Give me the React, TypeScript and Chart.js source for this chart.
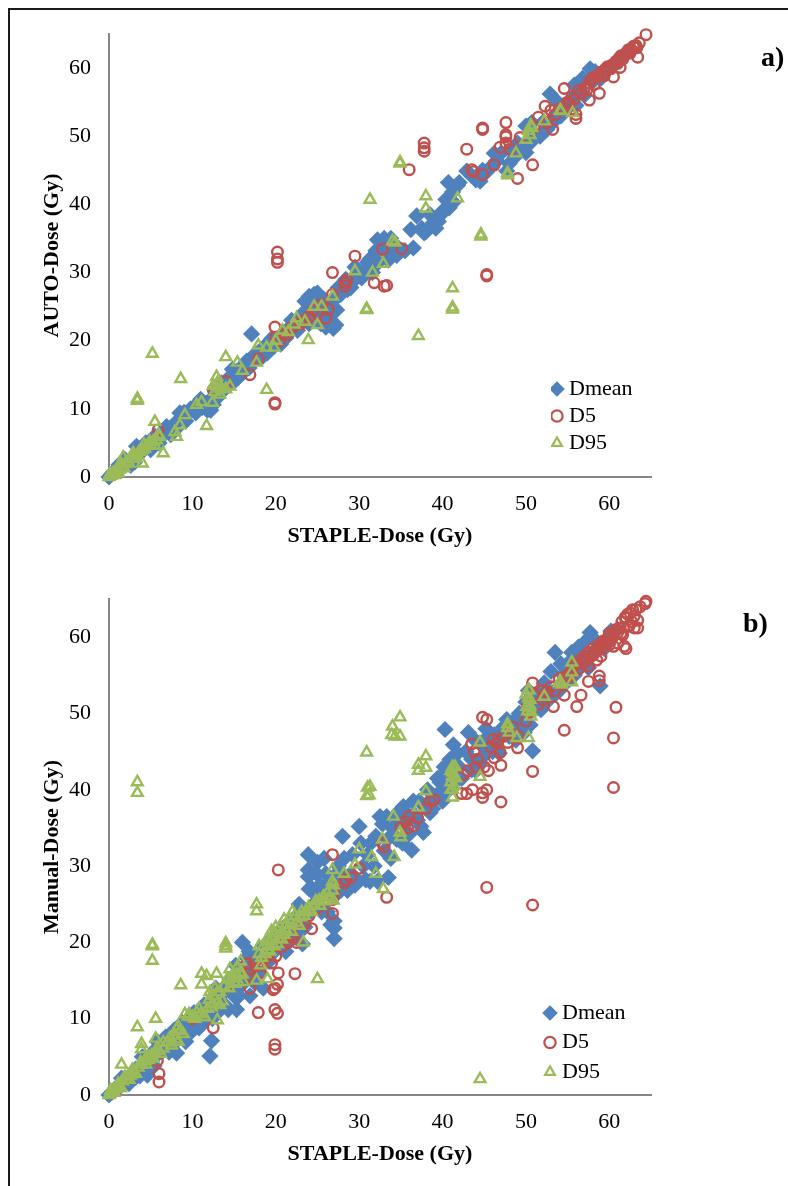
import React, { useEffect, useRef } from "react";
import { Chart, registerables } from "chart.js";

Chart.register(...registerables);

type P = [number, number];

const seriesNames = ["Dmean", "D5", "D95"];
const axisTicks = [0, 10, 20, 30, 40, 50, 60];

const autoDmean: P[] = [
  [0,0],[0.3,0.4],[0.6,0.8],[1,1],[1.5,1.4],[2,1.8],[2.5,2.3],[3,3],[3.3,4.5],[3.8,4.2],[4.2,4],[4.8,4.6],[5.3,5],[5.8,5.4],[6.2,6],[6.7,6.5],[7.2,7],[7.7,7.5],[8.2,8.2],[8.7,8.7],[9,9.5],[9.3,9.2],[10.3,10.3],[10.8,11],[11.2,10.2],[11.8,9.8],[12.2,9.8],[12.5,10.6],[12.8,12.5],[13.5,13.8],[14.2,14.3],[14.6,14.8],[15,14],[15.3,15.5],[15.8,16],[16.5,17],[17,17.2],[17.1,21],[18,18],[18.5,19],[19,19.5],[19.8,19.2],[20.3,20.2],[20.8,20.8],[21.3,21.5],[22,22],[22.5,23],[23.2,23],[23.5,25.8],[24,26.5],[24.6,26.8],[25,25.5],[25.5,25],[24.8,24],[25.4,22.5],[26,24],[26.9,21.8],[26,22],[27,26],[27.5,27.8],[28,28],[28.6,27.5],[29.5,29],[30,30],[30.8,30.5],[31.3,32],[32,33.2],[32.6,33.8],[33.2,33],[33.5,31.8],[34,34],[34.8,33.5],[36.5,33.6],[36.2,36.3],[36.9,38.3],[37.5,36.5],[38,36],[38.9,37.3],[39.5,37.5],[40,39],[40.4,40.7],[40.7,43.2],[41.3,40.3],[41.8,42.8],[42.9,44.9],[43.5,44.2],[44.5,43.4],[45.3,44.8],[46.5,46.4],[47.7,44.9],[47,47.5],[48.3,48],[49,49],[50,47.6],[50,51.5],[51,50.5],[51.7,50],[52,52],[52.9,56.2],[53.5,53],[54.5,54.5],[55.5,55.5],[56,54.5],[56.5,57],[57.7,59.9],[58,58],[59,58.5],[60,60],[61,61],[62,62],
  [1.2,1.8],[1.9,2.6],[2.6,1.7],[3.1,2.2],[3.6,3.4],[4.4,5],[5,4],[5.5,6],[6,5],[6.9,7.4],[7.4,6.2],[8,7],[8.5,9.4],[9.2,8.2],[9.8,10],[10.4,9.4],[11,11.4],[11.6,10.8],[12.2,11.4],[12.9,11.5],[13.2,13],[13.8,12.8],[14.2,13.3],[14.8,15.8],[15.5,14.6],[16,15.2],[16.8,16],[17.5,18],[18.2,17.4],[19,18.2],[19.5,20.3],[20.6,19.5],[21.2,20.4],[21.9,23],[22.6,21.5],[23.4,24.2],[24,22.5],[24.4,25.3],[25,27],[25.8,26],[26.4,25.3],[26.6,23],[27.3,24.5],[27.2,22.3],[27.8,26.8],[28.4,29],[29,27.8],[29.5,30.8],[30.3,29.2],[31,31.5],[31.6,30],[32.3,31.5],[33,35],[33.8,35],[32.2,34.8],[34.5,32.5],[35.5,33.2],[37.8,35.8],[38.5,38.5],[39.2,36.5],[39.8,38.5],[40.8,39.5],[41.2,41.8],[42,43.2],[44,43.6],[44.8,45],[45.8,45.5],[46.2,47.5],[48,46],[48.7,47],[49.5,48.5],[50.5,49],[50.7,52],[52.5,51],[53.2,52],[53.8,55],[54.2,53],[55,54.5],[55.8,57.5],[56.8,58.5],[57,56],[58.3,59.5],[59.2,59.5]
];
const autoD5: P[] = [
  [0.5,0.5],[1.5,1.6],[5.9,6.9],[12.5,12.8],[14,14],[16.9,15],[17.9,17.3],[19.9,10.9],[19.9,10.7],[19.9,22],[20.2,33],[20.2,32],[20.2,31.5],[21,21],[22,22],[22.5,22.5],[23,22.5],[24,23.5],[25,24],[26,23.3],[26.3,24.6],[26.8,26.8],[26.8,30],[28.3,28.5],[28.3,28],[28.5,28.9],[29.5,32.4],[31.8,28.5],[32.8,33.4],[33.3,28.1],[33,28],[35.1,33.5],[36,45.1],[37.8,49],[37.8,48.3],[37.8,47.8],[42.9,48.1],[43.5,45.1],[43.7,44.8],[44.8,51],[44.8,51.2],[44.8,44.4],[45.3,29.7],[45.3,29.5],[46.2,45.8],[46.9,48.4],[47.6,52],[47.6,50.2],[47.6,49.9],[47.6,49],[48.1,48.1],[49,43.8],[49.3,49.8],[50.8,45.8],[51.5,52.8],[52.3,54.4],[53,53.8],[53.2,51],[54,54],[54.6,57],[55,55],[55.5,55.8],[56,52.6],[56,53.2],[56.3,56.7],[57,57],[57.6,55.3],[57.6,57.8],[58,58.5],[58.8,56.3],[58.7,58.9],[59.2,59],[59.5,59.8],[60,60.2],[60.5,58.7],[60.4,60.5],[60.8,61],[61.3,60.1],[61.2,61.5],[61.6,61.3],[62,62.2],[62.3,62.7],[62.6,62.6],[63,63],[63.4,61.6],[63.2,63.3],[63.6,63.7],[64.4,64.9],
  [55.8,55.4],[56.6,56.3],[57.3,56.8],[57.8,58.3],[58.2,57.6],[58.5,58.8],[59,59.4],[59.4,58.9],[59.8,60.2],[60.2,59.9],[60.7,60.6],[61,60.7],[61.4,61.8],[61.8,61.9],[62.2,62.4],[62.5,62.2],[62.9,63.2],[63.3,63],[52.5,52],[53.5,53.2],[54.5,54.2],[55.2,54.9],[51,51.3],[20,20.5],[20.5,20],[21.5,21],[23.5,23],[24.5,24.5],[25.5,25.3]
];
const autoD95: P[] = [
  [0,0],[0.2,0.2],[0.4,0.5],[0.6,0.6],[0.8,0.9],[1,1],[1.2,1.1],[1.5,1.4],[1.7,2.9],[1.9,1.9],[2.2,2.1],[2.5,2.7],[2.8,2.8],[3,3.2],[3.3,3.1],[3.4,11.5],[3.4,11.2],[3.6,3.7],[4,2],[4,4],[4.3,4.2],[4.6,4.6],[5,4.7],[5.2,18.1],[5.3,5.2],[5.5,8.1],[5.7,5.4],[6.1,5.9],[6.5,3.5],[7.9,6.6],[8.1,5.9],[8.5,7.6],[8.6,14.4],[9.1,9.1],[10.5,10.6],[11.1,11],[11.7,7.5],[12.4,10.9],[12.9,14.7],[13,13],[13.3,12.1],[12.7,12.5],[14,12.9],[14.5,13.3],[14,17.6],[15.4,16.8],[16,15.6],[17.7,16.8],[17.9,19.3],[18.9,12.8],[18.9,19],[19.8,19],[20,20],[20.8,21.5],[21.5,21.3],[22.2,22.4],[22.5,23.3],[23.5,22.8],[23.9,20.1],[24.6,25],[25,22.3],[25.5,25],[26.8,26.5],[29.5,30.2],[30.9,24.7],[30.9,24.5],[31.3,40.7],[31.6,30],[32.9,31.3],[34,34.6],[34.3,34.4],[34.9,46.2],[34.9,46],[37.1,20.7],[38,41.2],[38,39.4],[41.2,27.7],[41.2,24.9],[41.2,24.6],[41.8,40.9],[44.6,35.6],[44.6,35.3],[47.8,44.6],[47.8,44.3],[48.8,47.5],[50,49.5],[50.3,50.8],[50.5,50.2],[50.6,51.6],[50.7,51.2],[52.2,52.2],[54.1,53.8],[54.2,53.7],[55.6,53.4],
  [0.1,0.4],[0.7,0.3],[1.1,0.6],[1.4,2],[1.8,1.3],[2.4,2],[2.9,3.5],[3.2,2.7],[3.8,3.9],[4.2,4.8],[4.9,5.2],[5.5,4.6],[5.9,6.2],[13,13.8],[13.5,13],[12.5,13.4]
];

const manualDmean: P[] = [
  [0,0],[0.4,0.4],[0.8,0.9],[1.2,1],[1.7,1.5],[2.2,2.2],[2.8,2.5],[3.2,3.4],[3.7,2.5],[4.3,4.2],[4.8,3.2],[5,5.2],[5.6,6],[6,5.5],[6.5,5.8],[7,6.5],[7.5,7.2],[8.1,5.5],[8.4,8.7],[9,7.6],[9.5,9.8],[10,9],[10.5,10.5],[11,10],[11.5,9.7],[12.1,5.1],[12.3,7.1],[12,11.5],[12.7,12.6],[13.2,11],[13.8,14],[14.3,11.2],[14.5,15.2],[15,13],[15.3,11.2],[15.6,16],[16,20],[16,14.5],[16.5,18],[16.9,13],[17,17],[17.5,16],[18,18],[18.5,14],[19,20],[19.5,18.5],[20,21],[20.5,19.5],[21,22],[21.5,20],[22,23],[22.5,21],[23,24],[23.5,22],[23.9,31.5],[23.9,29.5],[23.9,28.6],[24,27],[24.5,25],[25,26],[25,30.5],[25.5,24],[26,29],[26.5,28],[27,20.5],[27,21.9],[26.6,22.3],[27,26],[27.5,30],[28,33.9],[28.3,28.5],[29,29],[29.5,27.5],[30,35.2],[30.5,30],[31,31.5],[31.3,28],[32,33.9],[32.5,36.5],[33,32],[33.3,36.5],[33.5,28.5],[34,35],[34.5,33.5],[35.3,37.8],[35.5,35.5],[36.3,32.1],[36.5,38.5],[37,36],[37.7,34.4],[38,38],[38.5,37],[39,39],[39.7,41],[40,38.5],[40.3,47.9],[40.5,42.5],[40.9,44],[41.3,45.9],[41.5,41],[42,43],[43.1,47.5],[43.5,44],[44,42.5],[44.5,46],[45,44.5],[45.5,47],[46,45],[46.5,46.5],[47,47],[47.7,49.2],[48,47],[48.5,48.5],[49,49.5],[49.8,47.5],[50.3,53],[50.8,45.1],[51,50.5],[51.5,52.5],[52.5,51.5],[53,55.5],[53.5,58],[54,53],[54.5,55],[55,56.5],[56,55.5],[56.3,58.7],[57,57.5],[57.7,60.6],[58,58],[58.9,53.6],[59,59],[60,60],[61,61],
  [1.5,2.2],[2.4,1.5],[3.2,2.3],[4,5],[4.6,2.6],[5.4,3.8],[5.8,7],[6.8,7.6],[7.2,5.6],[7.8,8.5],[8,7],[8.8,9.5],[9.2,7],[9.8,8.2],[10.2,10.8],[10.8,8.8],[11.4,11.8],[11.8,10.4],[12.4,10],[12.8,14],[13.4,13],[13.9,11.8],[14.6,13.8],[15.2,17],[15.6,13],[16.3,15.5],[16.8,18.8],[17.4,14.8],[18,16],[18.6,19.5],[19.2,17.5],[20,19],[20.7,21.5],[21.2,18.8],[22,20.5],[22.8,25],[23.2,19.8],[23.6,23.5],[24.2,24],[24.4,27],[24.9,29],[25.3,27.5],[25.8,31],[26.2,24],[26.4,27],[27,22.8],[27.3,29],[27.8,26.8],[28.2,31],[28.6,26.8],[29.2,31.5],[29.5,28.5],[30.2,33],[30.8,28.2],[31.4,33],[31.8,30],[32.2,28],[32.8,35.5],[33.4,33.5],[33.8,31],[34.4,36.5],[34.8,37.2],[35.2,33],[35.8,36.8],[36,34.2],[36.6,36.8],[37.2,38.5],[37.4,35.2],[38.2,40],[38.8,37.5],[39.4,41.5],[39.5,39.5],[40.2,43],[40.6,39.8],[41,42],[41.8,44.8],[42.3,41.5],[42.8,45],[43.5,42.6],[43.9,46.5],[44.5,43.5],[45.2,48],[45.6,45.3],[46.2,47.2],[46.8,44.8],[47.3,48.2],[48.8,46.5],[49.2,50],[49.5,48.4],[50,51.5],[50.5,48.5],[51.2,51.5],[51.8,50.5],[52.2,54],[52.6,53],[53.5,52.5],[54.2,56.5],[54.8,54],[55.5,58],[55.8,55],[56.6,57],[57.2,59.5],[57.5,56],[58.4,59.5],[59.4,58.5],[60.2,60.8]
];
const manualD5: P[] = [
  [0.5,0.4],[1.2,1],[3,3],[6,2.8],[6,1.7],[5.8,4.5],[12.5,8.8],[16.9,14],[16.5,17.2],[17,16.5],[17.5,17.5],[17.9,10.8],[18.3,17],[19,18.5],[19.5,17.3],[19.9,14],[19.7,13.8],[20.2,14.5],[20.3,16],[19.9,11.2],[20.2,10.7],[19.9,6.6],[19.9,6],[20,18.2],[20.3,29.5],[21,20.5],[22,21],[22.3,15.9],[22.5,20],[23,23],[24.3,21.8],[25,24.5],[26,25.5],[26.8,31.5],[26.8,23.8],[26.8,25.6],[27,26.5],[28.4,28.2],[28.2,27.8],[32.8,33],[33,32.5],[33.3,25.9],[35,35],[35.5,35.8],[36,36.5],[38,37.5],[38.5,38.5],[42.3,39.5],[42.5,42],[42.9,39.5],[43,42.5],[43.5,46],[43.6,40],[44,43],[44.8,39],[44.8,39.6],[44.8,49.5],[45,43],[45.3,40],[45.3,49.2],[45.3,27.2],[45.5,42.5],[46.1,46.6],[46.5,46],[46.9,44.9],[47,43.2],[47,38.4],[48,47.5],[49,45.5],[49.1,47],[50,49],[50.8,42.4],[50.8,54],[50.8,24.9],[51,52.5],[52,53],[53,53.5],[53.3,50.9],[54,54.5],[54.6,52.4],[54.6,47.8],[55,55],[55.5,56],[56,56.5],[56.1,50.9],[56.6,52.4],[56.5,57],[57,57.5],[57.5,54.2],[57.5,58],[58,58.5],[58.8,54.9],[58.8,54.3],[58.7,59],[59,58.7],[59.3,59.5],[59.8,59.5],[60,60.5],[60.4,60],[60.5,46.8],[60.5,40.3],[60.8,50.8],[60.8,61],[61,59.2],[61.3,61.2],[61.5,62],[61.8,58.8],[62,58.5],[62,62.5],[62.4,61.5],[62.5,63.2],[63,62.8],[63.4,62.2],[63.2,63.6],[63.7,64],[64.4,64.7],[64.3,64.4],
  [50.2,51],[50.5,50.2],[51.5,51.2],[52,51.8],[52.5,52.8],[53.5,53],[54.2,53.8],[54.5,54.7],[55.2,54.8],[55.6,55.3],[56.3,55.8],[56.8,56.6],[57.3,56.9],[57.7,57.4],[58.1,57.7],[58.4,58.3],[58.9,58.4],[59.2,59.2],[59.6,59],[59.9,60],[60.2,59.6],[60.6,60.8],[61,60.6],[61.4,60.5],[61.7,61.3],[62.2,61.4],[62.7,62],[62.2,63],[61.9,62.6],[62.8,63.6],[63,61.2],[63.4,61.2],[61.6,60.3],[60.5,58.8],[60,59],[59,57.5],[58.5,57],[57.5,56.2],[43.8,45],[44.2,44],[45.8,45.6],[46.2,44.2],[46.7,46.5],[47.3,47],[47.8,46.2],[48.4,48.2],[39,38.7],[37,36.3],[36.5,35.3],[35.8,35],[30,29.7],[29,28.5],[24,23.5],[23.5,22.5],[22,20.5],[21.5,20],[20.8,19.5],[18.8,18],[18.2,16],[17.8,17],[16.7,15.8],[14,14.2],[13,13.2],[10,10],[8,8],[4.5,4.5],[2,2]
];
const manualD95: P[] = [
  [0,0],[0.3,0.3],[0.5,0.6],[0.8,0.8],[1,1.1],[1.3,1.2],[1.5,4],[1.6,1.8],[2,2],[2.3,2.5],[2.6,2.6],[3,3.1],[3.4,8.9],[3.4,41],[3.4,39.6],[3.5,3.6],[3.9,6.7],[3.9,6],[3.9,4],[4.3,4.5],[4.7,4.6],[5.1,5.2],[5.2,19.7],[5.2,19.5],[5.2,17.6],[5.5,5.5],[5.6,10],[5.6,7.4],[6,5.8],[6.5,6.9],[6.5,6.1],[7.5,6.5],[8,7.3],[8.3,7],[8.6,14.4],[8.5,8.4],[9.1,10.6],[9.5,10.3],[10.5,10.8],[11,10.6],[11.1,15.9],[11.1,14.5],[11.5,10.2],[11.7,15.6],[12,12.5],[12.3,11.5],[12.5,13],[12.9,15.9],[13,9.8],[13,12],[13.3,13.5],[13.6,12.3],[14,19.9],[14,19.5],[14,19.2],[14.2,15.2],[14.5,16.5],[15,15.5],[15.4,16.8],[15.5,14.8],[15.8,17.5],[16,15.8],[17.7,25],[17.7,24.1],[17.7,15],[18,18.5],[18.2,17],[18.5,19.5],[19,15.2],[19,20.5],[19.3,18.8],[19.5,21.5],[19.8,19.5],[20,22],[20.3,20.5],[20.8,21],[21,23],[21.3,21.5],[21.8,22.5],[22,24],[22.5,22.6],[23,23.3],[23.3,20],[23.6,24],[24.1,24.3],[24.6,25],[25,15.2],[25.2,25.5],[25.7,26],[26.2,26.5],[26.8,28],[26.8,29.5],[26.9,25.5],[28.2,29],[29.5,30.2],[30,32.2],[30.9,44.9],[31,40.3],[31.3,40.4],[30.9,39.2],[31.2,39.3],[31.5,31.2],[32,29],[32.9,27],[32.8,33.5],[33.9,47.2],[34,48.3],[34.1,36.5],[34.2,31.2],[34.3,47],[34.9,49.5],[34.9,47],[34.9,34.4],[35,33.8],[37.1,43.3],[37.1,42.5],[37.1,37.7],[38,44.4],[38,42.9],[38,39.8],[41.2,43],[41.2,42.3],[41.2,41.6],[41,41],[41.4,40.5],[41.6,41.5],[41.2,39],[41.2,40],[44.5,46.2],[44.5,41.7],[44.5,2.1],[47.8,48.6],[47.8,48.1],[48,47.5],[48.9,46.8],[50.3,46.8],[50.3,53.1],[50.3,52],[50.5,51],[50.2,50.3],[50.6,49.6],[50.4,50.8],[52.2,52.2],[54.1,54.2],[54,54],[54.3,53.8],[55.5,56.7],[55.5,55.4],[55.5,54.1],
  [0.2,0.6],[0.6,0.3],[1.1,1.5],[1.4,0.9],[1.9,2.4],[2.4,2],[2.8,3.3],[3.2,2.8],[3.8,4.3],[4.4,4],[4.8,5],[5.3,4.8],[5.8,6.2],[6.2,5.4],[7,6.9],[7.3,7.5],[7.8,7.8],[8.1,8.6],[8.3,9],[8.9,8],[9.6,10.6],[10,10.2],[10.3,10],[10.8,11.3],[11.8,11.3],[12.1,13.5],[12.4,12],[12.7,14],[13,13.5],[13.3,11.8],[13.8,14.2],[14.4,14],[14.7,15.4],[15.1,14.6],[15.3,15.8],[15.7,16],[16.1,14.8],[18,19.5],[18.3,18],[18.7,18.5],[19,19],[19.2,20.2],[19.6,20.5],[19.9,21.2],[20.2,19.8],[20.5,22],[20.7,20.4],[21,21],[21.2,22.3],[21.6,23],[21.9,21.4],[22.3,23.5],[22.8,22.2],[23.1,24],[23.4,23.5],[23.9,24.6],[24.3,24],[24.8,25.4],[25.3,24.8],[25.9,25.4],[26.4,25.8],[26.8,26.8],[26.9,27.5],[41.3,41.9],[41,42.5],[41.5,43],[41,40],[50,52.5],[50.4,53],[50.5,51.8],[50.1,50.9],[50.6,50.2]
];

const fontFamily = '"Liberation Serif", "Times New Roman", serif';
const blue = "#4F81BD";
const red = "#C0504D";
const green = "#9BBB59";

type PanelSpec = {
  height: number; plotTop: number; plotBottom: number; yTitle: string;
  dmean: P[]; d5: P[]; d95: P[];
  legendX: number; legendY: number; legendGap: number;
};

function makePanel(canvas: HTMLCanvasElement, s: PanelSpec) {
  const boxWidth = 2;
  return new Chart(canvas, {
    type: "scatter",
    data: {
      datasets: [
        { label: seriesNames[0], data: s.dmean, order: 2, pointStyle: "rectRot", pointRadius: 8.6, pointBorderWidth: 0, pointBackgroundColor: blue, pointBorderColor: blue, clip: false },
        { label: seriesNames[1], data: s.d5, order: 1, pointStyle: "circle", pointRadius: 5.3, pointBorderWidth: 2.4, pointBackgroundColor: "transparent", pointBorderColor: red, clip: false },
        { label: seriesNames[2], data: s.d95, order: 0, pointStyle: "triangle", pointRadius: 6.2, pointBorderWidth: 2.4, pointBackgroundColor: "transparent", pointBorderColor: green, clip: false },
      ] as any,
    },
    options: {
      responsive: false,
      animation: false,
      layout: { padding: { top: s.plotTop, right: 137, left: 0, bottom: 0 } },
      plugins: {
        tooltip: { enabled: false },
        legend: {
          position: "chartArea" as any,
          align: "start",
          labels: {
            usePointStyle: true,
            boxWidth,
            boxHeight: 8,
            padding: s.legendGap,
            color: "#000",
            font: { family: fontFamily, size: 22 },
            generateLabels: () => [
              { text: seriesNames[0], fillStyle: blue, strokeStyle: blue, lineWidth: 3, pointStyle: "rectRot", hidden: false, datasetIndex: 0 },
              { text: seriesNames[1], fillStyle: "transparent", strokeStyle: red, lineWidth: 2.2, pointStyle: "circle", hidden: false, datasetIndex: 1 },
              { text: seriesNames[2], fillStyle: "transparent", strokeStyle: green, lineWidth: 2.2, pointStyle: "triangle", hidden: false, datasetIndex: 2 },
            ],
          },
        },
      },
      scales: {
        x: {
          type: "linear", min: 0, max: 65,
          afterFit: (a: any) => { a.height = s.height - s.plotBottom; },
          afterBuildTicks: (a: any) => { a.ticks = axisTicks.map((value) => ({ value })); },
          grid: { display: false, drawTicks: false },
          border: { color: "#868686", width: 2 },
          ticks: { padding: 14, color: "#000", font: { family: fontFamily, size: 22 }, maxRotation: 0, autoSkip: false },
          title: { display: true, text: "STAPLE-Dose (Gy)", color: "#000", font: { family: fontFamily, size: 22, weight: "bold" }, padding: { top: 0, bottom: s.height - s.plotBottom - 73 } },
        },
        y: {
          type: "linear", min: 0, max: 65,
          afterFit: (a: any) => { a.width = 109; },
          afterBuildTicks: (a: any) => { a.ticks = axisTicks.map((value) => ({ value })); },
          grid: { display: false, drawTicks: false },
          border: { color: "#868686", width: 2 },
          ticks: { padding: 18, color: "#000", font: { family: fontFamily, size: 22 }, autoSkip: false },
          title: { display: true, text: s.yTitle, color: "#000", font: { family: fontFamily, size: 22, weight: "bold" }, padding: { top: 39, bottom: 0 } },
        },
      },
    } as any,
    plugins: [
      {
        id: "placeLegend",
        afterLayout(chart: any) {
          const lg = chart.legend;
          if (!lg) return;
          lg.left = s.legendX - boxWidth / 2 - s.legendGap;
          lg.right = chart.width;
          lg.top = s.legendY - 11 - s.legendGap;
          lg.bottom = chart.height;
        },
      },
    ],
  });
}

const panelA: PanelSpec = { height: 575, plotTop: 34, plotBottom: 477, yTitle: "AUTO-Dose (Gy)", dmean: autoDmean, d5: autoD5, d95: autoD95, legendX: 557, legendY: 389, legendGap: 5 };
const panelB: PanelSpec = { height: 641, plotTop: 54, plotBottom: 550, yTitle: "Manual-Dose (Gy)", dmean: manualDmean, d5: manualD5, d95: manualD95, legendX: 550, legendY: 468, legendGap: 7.5 };

const soft = "blur(0.45px)";
const labelStyle: React.CSSProperties = { position: "absolute", fontFamily, fontWeight: "bold", fontSize: 28, lineHeight: "32px", color: "#000", filter: soft };

export default function App() {
  const aRef = useRef<HTMLCanvasElement>(null);
  const bRef = useRef<HTMLCanvasElement>(null);
  useEffect(() => {
    const a = makePanel(aRef.current!, panelA);
    const b = makePanel(bRef.current!, panelB);
    return () => { a.destroy(); b.destroy(); };
  }, []);
  return (
    <div style={{ position: "absolute", left: 0, top: 0, width: 788, height: 1186, overflow: "hidden", background: "#fff" }}>
      <div style={{ position: "absolute", left: 8, top: 8, width: 800, height: 1200, borderLeft: "2px solid #1a1a1a", borderTop: "2px solid #1a1a1a" }} />
      <canvas ref={aRef} width={788} height={575} style={{ position: "absolute", left: 0, top: 0, filter: soft }} />
      <canvas ref={bRef} width={788} height={641} style={{ position: "absolute", left: 0, top: 545, filter: soft }} />
      <div style={{ ...labelStyle, left: 761, top: 41 }}>a)</div>
      <div style={{ ...labelStyle, left: 743, top: 607 }}>b)</div>
    </div>
  );
}
